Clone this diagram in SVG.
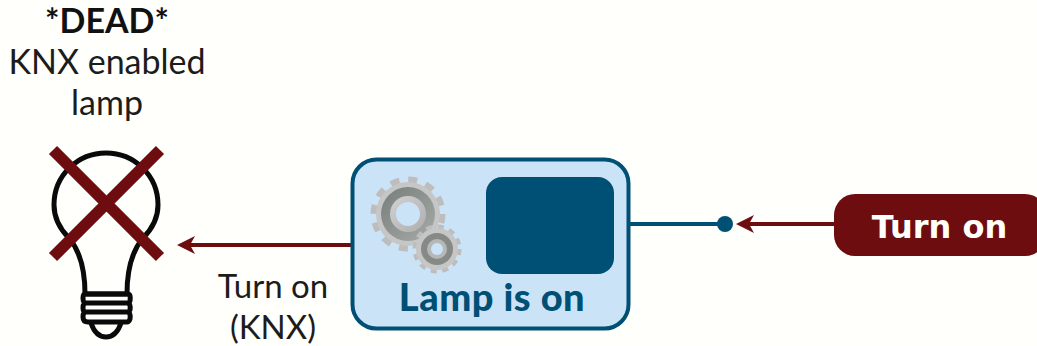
<svg xmlns="http://www.w3.org/2000/svg" width="1037" height="346" viewBox="0 0 1037 346">
<style>
.t{font-family:"Lato","Open Sans",sans-serif;font-size:34px;fill:#1c1c1c;text-anchor:middle}
.b{font-weight:700;fill:#111}
.s{font-size:33px}
.bulb{fill:none;stroke:#0a0a0a;stroke-width:5;stroke-linejoin:round;stroke-linecap:round}
.red{stroke:#6e0d0f;fill:none}
</style>
<defs>
<marker id="ah" markerUnits="userSpaceOnUse" markerWidth="20" markerHeight="20" refX="11" refY="10" orient="auto" viewBox="0 0 20 20"><path d="M19 10L1 1L6 10L1 19Z" fill="#6e0d0f"/></marker>
<linearGradient id="g1" x1="0" y1="0" x2="1" y2="1"><stop offset="0" stop-color="#d2d2d2"/><stop offset="1" stop-color="#aeaeae"/></linearGradient>
<linearGradient id="g2" x1="0" y1="0" x2="1" y2="1"><stop offset="0" stop-color="#777e7a"/><stop offset="1" stop-color="#a6aba8"/></linearGradient>
</defs>
<rect width="1037" height="346" fill="#fffffb"/>
<g id="label-dead">
<text class="t b" x="107" y="33">*DEAD*</text>
<text class="t" x="107" y="74">KNX enabled</text>
<text class="t" x="107" y="115">lamp</text>
</g>
<g id="lamp">
<path class="bulb" d="M69 238C59 228 54 217 54 205C54 175 78 153 106 153C134 153 158 175 158 205C158 217 153 228 143 238C132 251 127 270 127 294L85 294C85 270 80 251 69 238Z"/>
<path class="bulb" d="M85 294H128Q131 294 130 301Q129 303 127 303H86Q83 303 83 298Q83 294 85 294ZM86 303H127Q131 303 130 310Q129 312 127 312H86Q83 312 83 308Q83 303 86 303ZM86 312H127Q131 312 130 319Q129 322 127 322H88Q83 322 83 317Q83 312 86 312Z"/>
<path class="bulb" d="M91 323C94 332 99 337 106 337C113 337 118 332 121 323"/>
<path class="red" stroke-width="11.500" d="M53 150L160 257M160 150L53 257"/>
</g>
<g id="connectors">
<path class="red" stroke-width="4" d="M352 245H185" marker-end="url(#ah)"/>
<path d="M614 224H725" fill="none" stroke="#005076" stroke-width="4"/>
<path class="red" stroke-width="4" d="M834 224H744" marker-end="url(#ah)"/>
</g>
<g id="connector-label">
<text class="t s" x="273" y="298">Turn on</text>
<text class="t s" x="273" y="339">(KNX)</text>
</g>
<g id="state">
<rect x="352.500" y="159.500" width="276" height="169" rx="24" fill="#cbe3f6" stroke="#005076" stroke-width="4"/>
<g id="gears">
<circle cx="408" cy="214" r="34" fill="none" stroke="#bdbdbd" stroke-width="7" stroke-dasharray="9 8.800"/>
<circle cx="408" cy="214" r="32" fill="#c6c6c6"/>
<circle cx="408" cy="214" r="27" fill="url(#g2)"/>
<circle cx="408" cy="214" r="18" fill="url(#g1)"/>
<circle cx="408" cy="214" r="12" fill="#cbe3f6"/>
<circle cx="437" cy="249" r="22" fill="none" stroke="#bdbdbd" stroke-width="5" stroke-dasharray="6 5.520"/>
<circle cx="437" cy="249" r="21" fill="#c6c6c6"/>
<circle cx="437" cy="249" r="16" fill="#858a87"/>
<circle cx="437" cy="249" r="10" fill="#b5b8b6"/>
<circle cx="437" cy="249" r="6" fill="#cbe3f6"/>
</g>
<rect x="486" y="177" width="128" height="97" rx="16" fill="#005076"/>
<text x="492" y="311" text-anchor="middle" style="font-family:'Lato','Open Sans',sans-serif;font-size:38px;font-weight:900;letter-spacing:.5px;fill:#005076">Lamp is on</text>
</g>
<g id="dot"><circle cx="725" cy="224" r="8" fill="#005076"/></g>
<g id="turn-on">
<rect x="834" y="194" width="212" height="62" rx="21" fill="#6e0d0f"/>
<text x="939.500" y="238" text-anchor="middle" style="font-family:'DejaVu Sans',sans-serif;font-size:32px;font-weight:700;fill:#fffffb">Turn on</text>
</g>
</svg>
